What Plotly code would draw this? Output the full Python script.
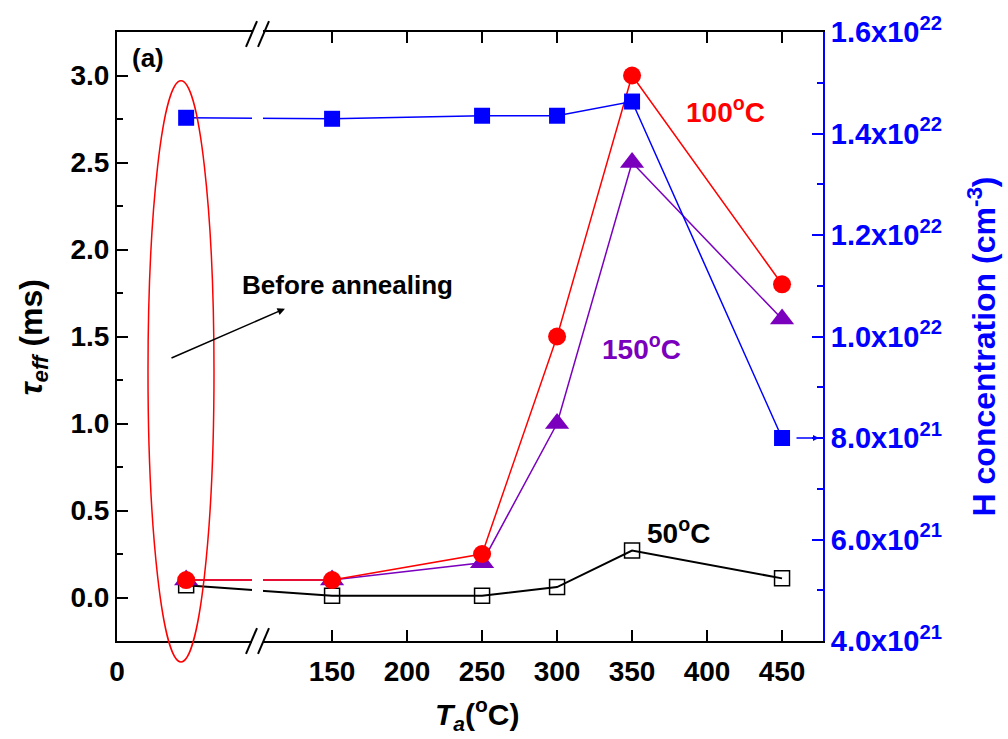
import plotly.graph_objects as go

# ---- data ----
# x position on the broken axis; first point = "before annealing" (left segment)
ta_pos = [52.7, 150, 250, 300, 350, 450]
tau_50C = [0.07, 0.01, 0.01, 0.06, 0.27, 0.11]
tau_100C = [0.10, 0.10, 0.25, 1.50, 3.00, 1.80]
tau_150C = [0.10, 0.10, 0.20, 1.00, 2.50, 1.60]
h_conc = [1.431e22, 1.429e22, 1.435e22, 1.435e22, 1.463e22, 8.0e21]

x_tickvals = [6.7, 150, 200, 250, 300, 350, 400, 450]
x_ticktext = ["0", "150", "200", "250", "300", "350", "400", "450"]
y2_tickvals = [4e21, 6e21, 8e21, 1.0e22, 1.2e22, 1.4e22, 1.6e22]
y2_ticktext = ["4.0x10<sup>21</sup>", "6.0x10<sup>21</sup>", "8.0x10<sup>21</sup>",
               "1.0x10<sup>22</sup>", "1.2x10<sup>22</sup>", "1.4x10<sup>22</sup>",
               "1.6x10<sup>22</sup>"]
y2_minorvals = [5e21, 7e21, 9e21, 1.1e22, 1.3e22, 1.5e22]

FONT = "Liberation Sans, Arial, sans-serif"
RED = "#FF0000"
PURPLE = "#7B00BE"
BLUE = "#0000FF"

fig = go.Figure()
fig.add_trace(go.Scatter(x=ta_pos, y=tau_50C, mode="lines+markers",
                         line=dict(color="black", width=2),
                         marker=dict(symbol="square-open", size=15, color="black",
                                     line=dict(width=1.5, color="black")),
                         showlegend=False))
fig.add_trace(go.Scatter(x=ta_pos, y=tau_150C, mode="lines+markers",
                         line=dict(color=PURPLE, width=1.5),
                         marker=dict(symbol="triangle-up", size=21, color=PURPLE),
                         showlegend=False))
fig.add_trace(go.Scatter(x=ta_pos, y=tau_100C, mode="lines+markers",
                         line=dict(color=RED, width=1.5),
                         marker=dict(symbol="circle", size=18, color=RED),
                         showlegend=False))
fig.add_trace(go.Scatter(x=ta_pos, y=h_conc, mode="lines+markers", yaxis="y2",
                         line=dict(color=BLUE, width=1.5),
                         marker=dict(symbol="square", size=16, color=BLUE),
                         showlegend=False))

tickfont = dict(family=FONT, size=28, color="black", weight="bold")

fig.update_layout(
    width=1008, height=739,
    margin=dict(l=117, r=185, t=29, b=98),
    paper_bgcolor="white", plot_bgcolor="white",
    xaxis=dict(range=[6.6, 477.3], tickmode="array", tickvals=x_tickvals,
               ticktext=x_ticktext, ticks="inside", ticklen=11, tickwidth=2,
               tickcolor="black", showline=True, linecolor="black", linewidth=2,
               mirror="ticks", showgrid=False, zeroline=False, tickfont=tickfont,
               ticklabelstandoff=4),
    yaxis=dict(range=[-0.25, 3.25], tickmode="linear", tick0=0, dtick=0.5,
               tickformat=".1f", ticks="inside", ticklen=11, tickwidth=2,
               tickcolor="black", showline=True, linecolor="black", linewidth=2,
               showgrid=False, zeroline=False, tickfont=tickfont,
               minor=dict(ticks="inside", ticklen=6, tickwidth=2, dtick=0.25,
                          tick0=0, tickcolor="black", showgrid=False)),
    yaxis2=dict(range=[4e21, 1.6e22], overlaying="y", side="right",
                tickmode="array", tickvals=y2_tickvals, ticktext=y2_ticktext,
                ticks="inside", ticklen=11, tickwidth=2, tickcolor=BLUE,
                showline=True, linecolor=BLUE, linewidth=2, showgrid=False,
                zeroline=False,
                tickfont=dict(family=FONT, size=29, color=BLUE, weight="bold"),
                minor=dict(ticks="inside", ticklen=6, tickwidth=2,
                           tickmode="array", tickvals=y2_minorvals,
                           tickcolor=BLUE, showgrid=False)),
)

def px_x(px):
    return (px - 117) / 706

def px_y(py):
    return (641 - py) / 612

# axis titles
fig.add_annotation(text="<i>τ</i><sub><i>eff</i></sub> (ms)", xref="paper", yref="paper",
                   x=px_x(33), y=px_y(336), xanchor="center", yanchor="middle",
                   textangle=-90, showarrow=False,
                   font=dict(family=FONT, size=32, color="black", weight="bold"))
fig.add_annotation(text="H concentration (cm<sup>-3</sup>)", xref="paper", yref="paper",
                   x=px_x(982), y=px_y(345), xanchor="center", yanchor="middle",
                   textangle=-90, showarrow=False,
                   font=dict(family=FONT, size=32, color=BLUE, weight="bold"))
fig.add_annotation(text="<i>T</i><sub><i>a</i></sub>(<sup>o</sup>C)", xref="paper", yref="paper",
                   x=px_x(477), y=px_y(714), xanchor="center", yanchor="middle",
                   showarrow=False,
                   font=dict(family=FONT, size=30, color="black", weight="bold"))

# series labels
fig.add_annotation(text="100<sup>o</sup>C", x=412, y=2.80, showarrow=False,
                   xanchor="center", yanchor="middle",
                   font=dict(family=FONT, size=28, color=RED, weight="bold"))
fig.add_annotation(text="150<sup>o</sup>C", x=356, y=1.44, showarrow=False,
                   xanchor="center", yanchor="middle",
                   font=dict(family=FONT, size=28, color=PURPLE, weight="bold"))
fig.add_annotation(text="50<sup>o</sup>C", x=380.7, y=0.38, showarrow=False,
                   xanchor="center", yanchor="middle",
                   font=dict(family=FONT, size=28, color="black", weight="bold"))
fig.add_annotation(text="(a)", xref="paper", yref="paper", x=px_x(148), y=px_y(55),
                   xanchor="center", yanchor="middle", showarrow=False,
                   font=dict(family=FONT, size=26, color="black", weight="bold"))

# before annealing
fig.add_annotation(text="Before annealing", xref="paper", yref="paper",
                   x=px_x(240), y=px_y(283), xanchor="left", yanchor="middle",
                   showarrow=False,
                   font=dict(family=FONT, size=26, color="black", weight="bold"))
fig.add_annotation(text="", xref="paper", yref="paper",
                   x=px_x(285), y=px_y(307), ax=-115, ay=50,
                   showarrow=True, arrowhead=2, arrowsize=1, arrowwidth=1.5,
                   arrowcolor="black")
# blue arrow to right axis
fig.add_annotation(text="", xref="paper", yref="paper",
                   x=px_x(819), y=px_y(437), ax=-24, ay=0,
                   showarrow=True, arrowhead=2, arrowsize=0.8, arrowwidth=1.5,
                   arrowcolor=BLUE)

shapes = []
# red ellipse
shapes.append(dict(type="circle", xref="paper", yref="paper",
                   x0=px_x(148), x1=px_x(214), y0=px_y(662), y1=px_y(78),
                   line=dict(color=RED, width=1.5), layer="above"))
# axis break band
shapes.append(dict(type="rect", xref="paper", yref="paper",
                   x0=px_x(252), x1=px_x(263), y0=-0.01, y1=1.01,
                   fillcolor="white", line=dict(width=0), layer="above"))
# break slashes (bottom and top)
for yc in (641, 31):
    for xs in (246, 258):
        shapes.append(dict(type="line", xref="paper", yref="paper",
                           x0=px_x(xs), y0=px_y(yc + 13),
                           x1=px_x(xs + 11), y1=px_y(yc - 13),
                           line=dict(color="black", width=2), layer="above"))
fig.update_layout(shapes=shapes)

fig.write_html("out.html")
